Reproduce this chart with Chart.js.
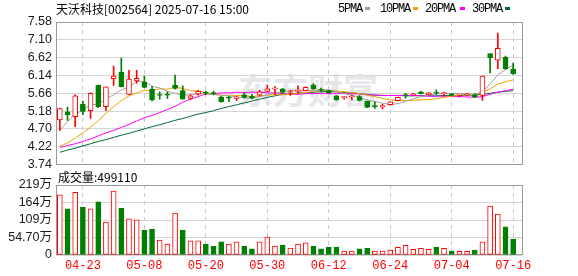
<!DOCTYPE html>
<html><head><meta charset="utf-8">
<script src="https://cdn.jsdelivr.net/npm/chart.js@4.4.1/dist/chart.umd.min.js"></script>
<style>
html,body{margin:0;padding:0;background:#fff;width:578px;height:276px;overflow:hidden;}
body{position:relative;}
#wm{position:absolute;left:238px;top:70px;font:bold 35px/38px "Noto Sans CJK SC";color:#e7e7eb;white-space:nowrap;}
#pc{position:absolute;left:0;top:0;}
#vc{position:absolute;left:0;top:170px;}
.t{position:absolute;white-space:nowrap;color:#000;}
#title{left:56px;top:2px;font:12px/14px "Noto Sans CJK SC";}
#vlab{left:58px;top:170px;font:12px/14px "Noto Sans CJK SC";}
.lg{position:absolute;top:3px;font:12px/12px "Liberation Mono";letter-spacing:-1.2px;color:#000;}
.sw{position:absolute;top:7px;width:5px;height:3px;}
</style></head>
<body>
<div id="wm">东方财富</div>
<canvas id="pc" width="578" height="176"></canvas>
<canvas id="vc" width="578" height="106"></canvas>
<div class="t" id="title">天沃科技[002564] 2025-07-16 15:00</div>
<div class="t" id="vlab">成交量:499110</div>
<div class="lg" style="left:338px">5PMA</div><div class="sw" style="left:365px;background:#a0a0a0"></div>
<div class="lg" style="left:380px">10PMA</div><div class="sw" style="left:413px;background:#f0a000"></div>
<div class="lg" style="left:425px">20PMA</div><div class="sw" style="left:460px;background:#ff00ff"></div>
<div class="lg" style="left:472px">30PMA</div><div class="sw" style="left:505px;background:#00693a"></div>
<script>
const dates = ['04-18','04-21','04-22','04-23','04-24','04-25','04-28','04-29','04-30',
 '05-06','05-07','05-08','05-09','05-12','05-13','05-14','05-15','05-16','05-19','05-20','05-21','05-22','05-23','05-26','05-27','05-28','05-29','05-30',
 '06-03','06-04','06-05','06-06','06-09','06-10','06-11','06-12','06-13','06-16','06-17','06-18','06-19','06-20','06-23','06-24','06-25','06-26','06-27','06-30',
 '07-01','07-02','07-03','07-04','07-07','07-08','07-09','07-10','07-11','07-14','07-15','07-16'];
const openP  = [4.94,5.16,5.03,5.37,5.19,5.88,5.30,6.05,6.23,5.63, 5.99,5.96,5.77,5.61,5.62,5.88,5.73,5.52,5.64,5.69, 5.68,5.56,5.54,5.52,5.62,5.58,5.61,5.71,5.77,5.77, 5.68,5.71,5.73,5.88,5.76,5.73,5.59,5.54,5.56,5.57, 5.44,5.31,5.30,5.35,5.46,5.61,5.62,5.70,5.62,5.67, 5.65,5.64,5.61,5.62,5.62,5.60,6.73,6.55,6.63,6.31];
const highP  = [5.26,5.29,5.62,5.45,5.67,5.88,5.83,6.39,6.61,6.28, 6.28,6.12,5.84,5.70,5.70,6.15,5.86,5.62,5.73,5.72, 5.72,5.58,5.58,5.58,5.67,5.63,5.74,5.88,5.84,5.79, 5.74,5.86,5.83,5.92,5.80,5.74,5.60,5.58,5.61,5.60, 5.45,5.43,5.36,5.43,5.56,5.66,5.66,5.71,5.68,5.75, 5.69,5.66,5.64,5.66,5.65,6.12,6.73,7.28,6.66,6.47];
const lowP   = [4.66,4.93,4.76,5.08,4.98,5.27,5.19,5.87,5.83,5.62, 5.93,5.81,5.45,5.50,5.52,5.77,5.50,5.50,5.61,5.62, 5.62,5.42,5.43,5.47,5.53,5.51,5.58,5.70,5.62,5.66, 5.60,5.66,5.72,5.76,5.70,5.66,5.47,5.50,5.48,5.45, 5.27,5.25,5.24,5.34,5.45,5.53,5.60,5.64,5.61,5.63, 5.59,5.60,5.56,5.59,5.55,5.47,6.21,6.32,6.30,6.17];
const closeP = [5.25,5.08,5.59,5.17,5.66,5.30,5.83,6.12,5.84,6.04, 6.06,5.82,5.48,5.60,5.61,5.79,5.50,5.59,5.71,5.66, 5.64,5.43,5.53,5.56,5.55,5.53,5.70,5.78,5.79,5.68, 5.70,5.73,5.82,5.78,5.74,5.67,5.49,5.56,5.58,5.47, 5.28,5.30,5.32,5.43,5.55,5.60,5.63,5.65,5.67,5.66, 5.67,5.62,5.63,5.64,5.56,6.12,6.62,6.87,6.32,6.19];
const prevClose = 4.94;
const volume = [188,144,196,150,144,166,103,200,147,113, 110,78,81,47,34,131,78,44,44,34, 28,41,34,41,28,19,41,56,28,31, 22,34,38,28,19,25,25,12.5,12.5,19, 22,12.5,12.5,15.6,24,30,18,21,18,25, 21,12.5,11.5,11.5,15.6,41,153,128,88,49.911];
const ma5  = [4.66,4.90,5.08,5.22,5.35,5.36,5.51,5.62,5.75,5.83, 5.98,5.98,5.85,5.80,5.71,5.66,5.60,5.62,5.64,5.65, 5.62,5.61,5.59,5.56,5.54,5.52,5.57,5.62,5.67,5.70, 5.73,5.74,5.74,5.74,5.75,5.75,5.70,5.65,5.61,5.55, 5.48,5.44,5.39,5.36,5.38,5.44,5.51,5.57,5.62,5.64, 5.66,5.65,5.65,5.64,5.62,5.71,5.91,6.16,6.30,6.42];
const ma10 = [4.23,4.32,4.45,4.59,4.75,4.92,5.12,5.30,5.46,5.59, 5.67,5.74,5.73,5.78,5.77,5.82,5.79,5.73,5.72,5.68, 5.64,5.60,5.61,5.60,5.60,5.57,5.59,5.61,5.62,5.62, 5.63,5.66,5.68,5.71,5.73,5.74,5.72,5.70,5.68,5.65, 5.61,5.57,5.52,5.48,5.47,5.46,5.47,5.48,5.49,5.51, 5.55,5.58,5.61,5.63,5.63,5.69,5.78,5.91,5.97,6.02];
const ma20 = [4.20,4.25,4.30,4.36,4.43,4.51,4.59,4.66,4.74,4.82, 4.91,5.00,5.06,5.14,5.22,5.31,5.42,5.50,5.57,5.64, 5.65,5.67,5.67,5.69,5.68,5.69,5.69,5.67,5.67,5.65, 5.63,5.63,5.65,5.65,5.66,5.65,5.65,5.65,5.65,5.64, 5.62,5.61,5.60,5.60,5.60,5.60,5.60,5.59,5.58,5.58, 5.58,5.57,5.57,5.56,5.55,5.57,5.63,5.69,5.73,5.77];
const ma30 = [4.07,4.13,4.18,4.24,4.30,4.36,4.41,4.47,4.53,4.58, 4.64,4.70,4.76,4.81,4.87,4.93,4.98,5.04,5.10,5.14, 5.19,5.25,5.30,5.35,5.40,5.45,5.50,5.55,5.59,5.63, 5.64,5.67,5.67,5.69,5.70,5.71,5.70,5.68,5.67,5.65, 5.63,5.61,5.60,5.60,5.60,5.59,5.59,5.60,5.59,5.59, 5.60,5.60,5.60,5.61,5.61,5.63,5.66,5.69,5.71,5.73];
const priceTicks = [3.74,4.22,4.70,5.18,5.66,6.14,6.62,7.10,7.58];
const volTicks = [0,54.7,109.4,164.1,218.8];
const volTickLabels = ['0','54.70万','109万','164万','219万'];
const xTickLabels = ['04-23','05-08','05-20','05-30','06-12','06-24','07-04','07-16'];

const RED = '#ff0000', GREEN = '#008000';
const idx = dates.map((d, i) => i);
const up = idx.map(i => closeP[i] >= openP[i]);
const volUp = idx.map(i => closeP[i] >= (i ? closeP[i - 1] : prevClose));
const xTickIdx = xTickLabels.map(l => dates.indexOf(l));

const frame = {
  id: 'frame',
  beforeDatasetsDraw(c) {
    const a = c.chartArea, x = c.ctx;
    x.save(); x.strokeStyle = '#9a9a9a'; x.lineWidth = 1;
    x.strokeRect(Math.round(a.left) + 0.5, Math.round(a.top) + 0.5, Math.round(a.width), Math.round(a.height) - 1);
    x.restore();
  }
};

function xAxis(labels) {
  return {
    type: 'linear', min: -0.5, max: 60.15, offset: false,
    afterBuildTicks: s => { s.ticks = xTickIdx.map(v => ({ value: v })); },
    ticks: { display: labels, autoSkip: false, maxRotation: 0, color: RED,
      font: { family: 'Liberation Mono', size: 12 }, padding: 4, callback: v => dates[v] },
    grid: { color: '#c8c8c8', drawTicks: false, lineWidth: 1, offset: false },
    border: { display: false, dash: [4, 4] },
    afterFit: s => { s.height = labels ? 21 : 0; }
  };
}

function yAxis(min, max, tickVals, fmt, family) {
  return {
    min: min, max: max,
    afterBuildTicks: s => { s.ticks = tickVals.map(v => ({ value: v })); },
    ticks: { autoSkip: false, color: '#1a1a1a', font: { family: family, size: 12.5 }, padding: 4, callback: fmt },
    grid: { color: '#d6d6d6', drawTicks: false },
    border: { display: false },
    afterFit: s => { s.width = 56; }
  };
}

const lineDs = (data, color, order) => ({
  type: 'line', data: idx.map(i => ({ x: i, y: data[i] })), borderColor: color,
  borderWidth: 1, pointRadius: 0, tension: 0, order: order, fill: false
});

new Chart(document.getElementById('pc'), {
  type: 'bar',
  data: { datasets: [
    { type: 'bar', data: idx.map(i => ({ x: i, y: [openP[i], closeP[i]] })),
      backgroundColor: idx.map(i => up[i] ? '#ffffff' : GREEN),
      borderColor: idx.map(i => up[i] ? RED : GREEN),
      borderWidth: 1, borderSkipped: false, barThickness: 5, minBarLength: 1, grouped: false, order: 0 },
    { type: 'bar', data: idx.map(i => ({ x: i, y: [lowP[i], highP[i]] })),
      backgroundColor: idx.map(i => up[i] ? RED : GREEN),
      borderWidth: 0, barThickness: 1, grouped: false, order: 1 },
    lineDs(ma5, '#a0a0a0', 2),
    lineDs(ma10, '#f0a000', 3),
    lineDs(ma20, '#ff00ff', 4),
    lineDs(ma30, '#00693a', 5)
  ] },
  options: {
    responsive: false, animation: false, events: [],
    layout: { padding: { left: 0, right: 56, top: 22, bottom: 11 } },
    plugins: { legend: { display: false }, tooltip: { enabled: false } },
    scales: {
      x: xAxis(false),
      y: yAxis(3.74, 7.58, priceTicks, v => v.toFixed(2), 'Liberation Sans')
    }
  },
  plugins: [frame]
});

new Chart(document.getElementById('vc'), {
  type: 'bar',
  data: { datasets: [
    { data: idx.map(i => ({ x: i, y: volume[i] })),
      backgroundColor: idx.map(i => volUp[i] ? '#ffffff' : GREEN),
      borderColor: idx.map(i => volUp[i] ? RED : GREEN),
      borderWidth: 1, borderSkipped: false, barThickness: 5 }
  ] },
  options: {
    responsive: false, animation: false, events: [],
    layout: { padding: { left: 0, right: 56, top: 15, bottom: 0 } },
    plugins: { legend: { display: false }, tooltip: { enabled: false } },
    scales: {
      x: xAxis(true),
      y: yAxis(0, 218.8, volTicks, (v, i) => volTickLabels[i], "'Liberation Sans','Noto Sans CJK SC'")
    }
  },
  plugins: [frame]
});
</script>
</body></html>
